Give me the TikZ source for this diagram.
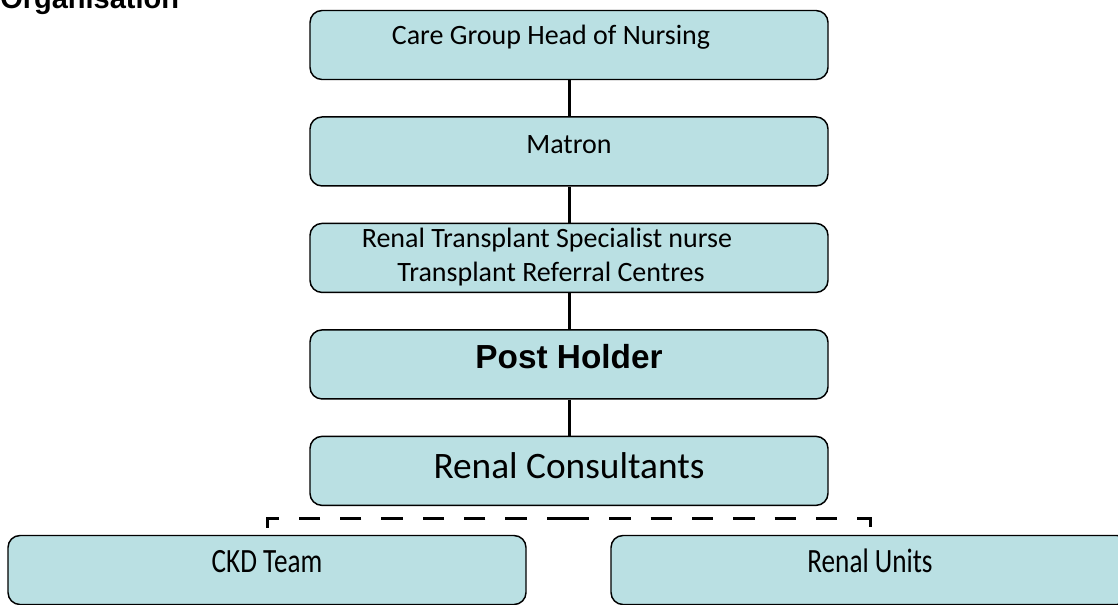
\documentclass[tikz,border=0pt]{standalone}
\usepackage{fontspec}
\usepackage{graphicx}
\setmainfont{Carlito}
\newfontfamily\headfont{Liberation Sans}
\usetikzlibrary{positioning}
\definecolor{boxfill}{RGB}{186,224,227}
\tikzset{
  orgbox/.style={draw, line width=1.1pt, rounded corners=9pt, fill=boxfill,
    minimum width=388.5pt, minimum height=51.75pt, inner sep=0pt,
    font=\fontsize{21}{25.5}\selectfont},
  solidlink/.style={line width=2.25pt},
  dashlink/.style={line width=2.25pt, dash pattern=on 16pt off 15pt},
}
\begin{document}
\begin{tikzpicture}[x=0.75pt, y=-0.75pt, node distance=27pt]
\useasboundingbox (0,0) rectangle (1118,604);
\node[anchor=base west, inner sep=0pt, font=\headfont\bfseries\fontsize{21.75}{26}\selectfont] (title) at (0,8) {Organisation};
\node[orgbox, text height=10.5pt, text depth=12pt] (head) at (569,45) {Care Group Head of Nursing\hspace*{27pt}};
\node[orgbox, text height=12.75pt, text depth=9.75pt, below=of head] (matron) {Matron};
\node[orgbox, align=center, text depth=4pt, below=of matron] (rtsn) {Renal Transplant Specialist nurse\hspace*{33pt}\\Transplant Referral Centres\hspace*{27pt}};
\node[orgbox, text height=14.25pt, text depth=8.25pt, below=of rtsn, font=\headfont\bfseries\fontsize{25}{30}\selectfont] (post) {Post Holder};
\node[orgbox, text height=17pt, text depth=5.5pt, below=of post, font=\fontsize{28}{33}\selectfont] (cons) {Renal Consultants};
\node[orgbox, text height=12.75pt, text depth=9.75pt, font=\fontsize{25.5}{30}\selectfont] (ckd) at (267,570) {\scalebox{0.8}[1]{CKD Team}};
\node[orgbox, text height=12.75pt, text depth=9.75pt, font=\fontsize{25.5}{30}\selectfont] (units) at (870,570) {\scalebox{0.8}[1]{Renal Units}};
\coordinate (split) at (568,518);
\draw[solidlink] (head) -- (matron);
\draw[solidlink] (matron) -- (rtsn);
\draw[solidlink] (rtsn) -- (post);
\draw[solidlink] (post) -- (cons);
\draw[dashlink] (split) -| (ckd.north);
\draw[dashlink] (split) -| (units.north);
\end{tikzpicture}
\end{document}
